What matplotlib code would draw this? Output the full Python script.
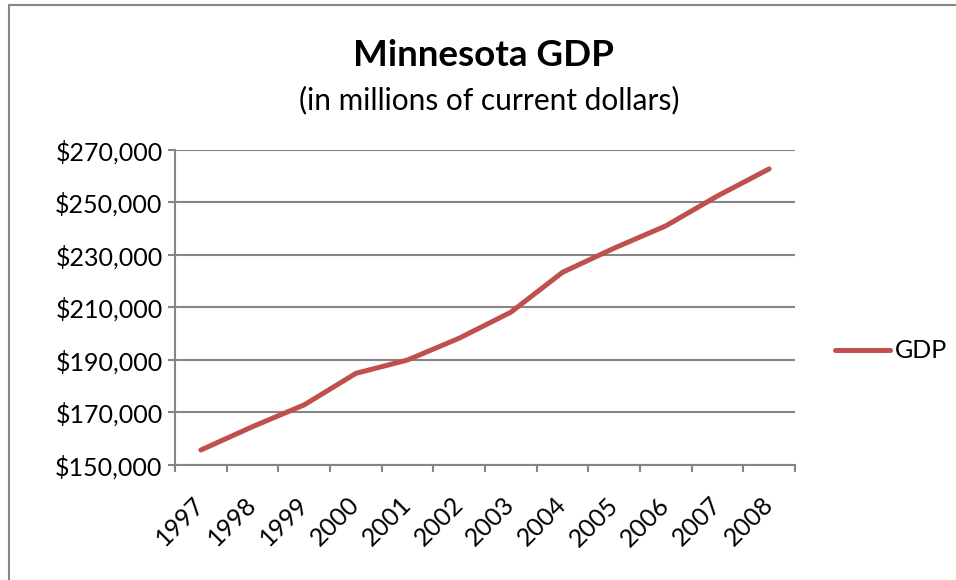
#!/usr/bin/env python3

import numpy as np
import matplotlib
matplotlib.use('Agg')
import matplotlib.pyplot as plt
from matplotlib.patches import Rectangle
from matplotlib.ticker import FuncFormatter, FixedLocator

plt.rcParams['font.family'] = ['Lato', 'DejaVu Sans']

years = ['1997', '1998', '1999', '2000', '2001', '2002',
         '2003', '2004', '2005', '2006', '2007', '2008']
gdp = [155700, 164600, 172900, 184900, 190000, 198300,
       208200, 223400, 232600, 241100, 252500, 262800]

line_color = '#C0504D'
axis_color = '#868686'


def main():
    fig = plt.figure(figsize=(9.56, 5.8), dpi=100)
    ax = fig.add_axes([0.1831, 0.1983, 0.6485, 0.5431])

    # chart frame, runs off the right and bottom edges
    fig.patches.append(Rectangle((9 / 956, -0.1), 1.1, 0.1 + 575 / 580,
                                 transform=fig.transFigure, fill=False,
                                 edgecolor=axis_color, linewidth=1.5))

    x = np.arange(len(years))
    ax.plot(x, gdp, color=line_color, linewidth=3.6,
            solid_capstyle='round', solid_joinstyle='round', label='GDP')

    ax.set_xlim(-0.5, len(years) - 0.5)
    ax.set_ylim(150000, 270000)
    ax.set_yticks(np.arange(150000, 270001, 20000))
    ax.yaxis.set_major_formatter(FuncFormatter(lambda v, p: '${:,.0f}'.format(v)))
    ax.grid(axis='y', color=axis_color, linewidth=1.5)
    ax.set_axisbelow(True)

    ax.set_xticks(x)
    ax.set_xticklabels(years, rotation=45, ha='right', va='center',
                       rotation_mode='anchor', fontsize=18)
    ax.xaxis.set_minor_locator(FixedLocator(np.arange(-0.5, len(years), 1)))
    ax.tick_params(axis='x', which='major', length=0, pad=26)
    ax.tick_params(axis='x', which='minor', length=5, width=1.5,
                   color=axis_color)
    ax.tick_params(axis='y', length=5, width=1.5, color=axis_color,
                   labelsize=18, pad=4)

    for side in ['top', 'right']:
        ax.spines[side].set_visible(False)
    for side in ['left', 'bottom']:
        ax.spines[side].set_color(axis_color)
        ax.spines[side].set_linewidth(1.5)

    fig.text(483 / 956, 1 - 55 / 580, 'Minnesota GDP', ha='center',
             va='center', fontsize=26.5, fontweight='bold')
    fig.text(489 / 956, 1 - 100 / 580, '(in millions of current dollars)',
             ha='center', va='center', fontsize=21.5)

    ax.legend(loc='center left', bbox_to_anchor=(835 / 956, 1 - 351 / 580),
              bbox_transform=fig.transFigure, frameon=False, fontsize=18,
              handlelength=2.2, handletextpad=0.2, borderpad=0,
              borderaxespad=0)

    fig.savefig('out.png', dpi=100, facecolor='white')


if __name__ == '__main__':
    main()
